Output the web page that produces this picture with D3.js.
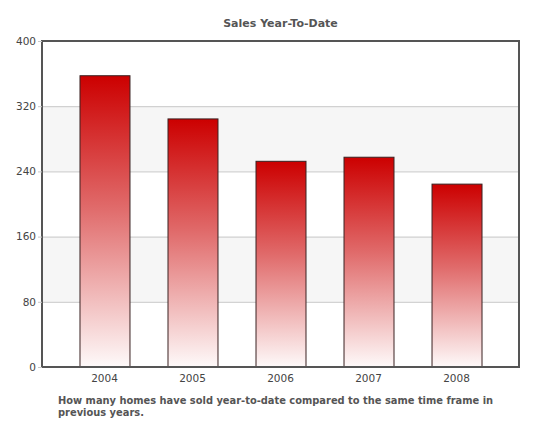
<!DOCTYPE html>
<html>
<head>
<meta charset="utf-8">
<script src="https://cdn.jsdelivr.net/npm/d3@7"></script>
<style>
  body { margin: 0; background: #fff; }
  text { font-family: "DejaVu Sans", Verdana, sans-serif; }
</style>
</head>
<body>
<div class="salesChart"></div>
<script>
// chart values
const years = ["2004", "2005", "2006", "2007", "2008"];
const sales = [358, 305, 253, 258, 225];
const yTicks = [0, 80, 160, 240, 320, 400];
const titleText = "Sales Year-To-Date";
const captionLines = [
    "How many homes have sold year-to-date compared to the same time frame in",
    "previous years."
];

const width = 534, height = 434;
const margin = {top: 41, right: 15, bottom: 67, left: 42};
const plotW = width - margin.left - margin.right,
      plotH = height - margin.top - margin.bottom;

const svg = d3.select(".salesChart")
    .append("svg")
    .attr("width", width)
    .attr("height", height);

// gradient for the bars, red at the top fading to white
const defs = svg.append("defs");
const grad = defs.append("linearGradient")
    .attr("id", "barFill")
    .attr("x1", 0).attr("y1", 0).attr("x2", 0).attr("y2", 1);
grad.append("stop").attr("offset", "0%").attr("stop-color", "#cc0000");
grad.append("stop").attr("offset", "45%").attr("stop-color", "#e06a6a");
grad.append("stop").attr("offset", "100%").attr("stop-color", "#fefafa");

const g = svg.append("g")
    .attr("transform", `translate(${margin.left}, ${margin.top})`);

const x = d3.scaleBand()
    .domain(years)
    .range([0, plotW])
    .paddingInner(0.432)
    .paddingOuter(0.426);

const y = d3.scaleLinear()
    .domain([0, 400])
    .range([plotH, 0]);

// alternating grey bands
const bands = d3.pairs(yTicks).filter((d, i) => i % 2 === 1);
g.selectAll("rect.band")
    .data(bands)
    .join("rect")
    .attr("class", "band")
    .attr("x", 0)
    .attr("width", plotW)
    .attr("y", d => y(d[1]))
    .attr("height", d => y(d[0]) - y(d[1]))
    .attr("fill", "#f6f6f6");

// grid lines
g.selectAll("line.grid")
    .data(yTicks.slice(1, -1))
    .join("line")
    .attr("class", "grid")
    .attr("x1", 0).attr("x2", plotW)
    .attr("y1", d => y(d) + 0.5).attr("y2", d => y(d) + 0.5)
    .attr("stroke", "#c8c8c8")
    .attr("stroke-width", 1);

// bars
g.selectAll("rect.bar")
    .data(years.map((yr, i) => ({year: yr, value: sales[i]})))
    .join("rect")
    .attr("class", "bar")
    .attr("x", d => x(d.year) + 0.5)
    .attr("width", x.bandwidth())
    .attr("y", d => y(d.value) + 0.5)
    .attr("height", d => plotH - y(d.value))
    .attr("fill", "url(#barFill)")
    .attr("stroke", "#3a2222")
    .attr("stroke-width", 1);

// plot frame
g.append("rect")
    .attr("x", 0).attr("y", 0)
    .attr("width", plotW).attr("height", plotH)
    .attr("fill", "none")
    .attr("stroke", "#555")
    .attr("stroke-width", 2);

// y axis labels
const yAxis = g.append("g")
    .call(d3.axisLeft(y).tickValues(yTicks).tickSize(4).tickPadding(2));
yAxis.select(".domain").remove();
yAxis.selectAll("line").attr("stroke", "#c8c8c8");
yAxis.selectAll("text")
    .attr("fill", "#444")
    .style("font-size", "10.5px")
    .style("font-family", "DejaVu Sans, Verdana, sans-serif");

// x axis labels
const xAxis = g.append("g")
    .attr("transform", `translate(0, ${plotH})`)
    .call(d3.axisBottom(x).tickSize(0).tickPadding(8));
xAxis.select(".domain").remove();
xAxis.selectAll("text")
    .attr("fill", "#444")
    .style("font-size", "10.5px")
    .style("font-family", "DejaVu Sans, Verdana, sans-serif");

// title
svg.append("text")
    .text(titleText)
    .attr("x", margin.left + plotW / 2)
    .attr("y", 27)
    .attr("text-anchor", "middle")
    .attr("fill", "#555")
    .attr("font-size", "11px")
    .attr("font-weight", "bold");

// caption under the chart
svg.append("text")
    .attr("x", 58)
    .attr("y", 403.5)
    .attr("fill", "#555")
    .attr("font-size", "9.9px")
    .attr("font-weight", "bold")
    .selectAll("tspan")
    .data(captionLines)
    .join("tspan")
    .attr("x", 58)
    .attr("dy", (d, i) => i === 0 ? 0 : 12)
    .text(d => d);
</script>
</body>
</html>
